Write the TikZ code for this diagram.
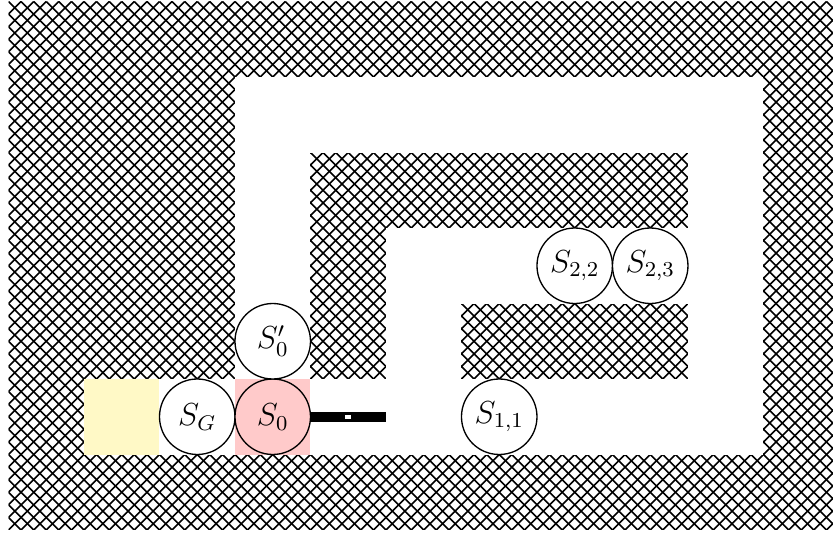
\documentclass[tikz,border=0pt]{standalone}
\definecolor{pinkcell}{RGB}{255,202,202}
\definecolor{yellowcell}{RGB}{255,249,198}
\begin{document}
\begin{tikzpicture}[x=1cm,y=-1cm,
  state/.style={circle,draw,line width=0.5pt,minimum size=1cm,inner sep=0pt,font=\large},
  hatchline/.style={line width=0.6pt,black}]
\useasboundingbox (-0.1126,-0.0199) rectangle (10.921,7.08);
\clip (-0.1126,-0.0199) rectangle (10.921,7.08);
% walls: cross-hatching over the whole grid
\begin{scope}
\clip (0,0) rectangle (11,7);
\foreach \k in {-43,...,67} {
  \draw[hatchline] ({\k/6},0) -- ({\k/6+7},7);
}
\foreach \k in {-1,...,109} {
  \draw[hatchline] ({\k/6},0) -- ({\k/6-7},7);
}
\end{scope}
% free cells
\fill[white] (3,1) rectangle (10,2);
\fill[white] (3,2) rectangle (4,5);
\fill[white] (9,2) rectangle (10,6);
\fill[white] (5,3) rectangle (9,4);
\fill[white] (5,4) rectangle (6,5);
\fill[white] (1,5) rectangle (9,6);
% coloured cells
\fill[yellowcell] (1,5) rectangle (2,6);
\fill[pinkcell] (3,5) rectangle (4,6);
% states
\node[state,fill=white] (sg) at (2.5,5.5) {$S_G$};
\node[state,fill=pinkcell] (s0) at (3.5,5.5) {$S_0$};
\node[state,fill=white] (s0p) at (3.5,4.5) {$S_0'$};
\node[state,fill=white] (s11) at (6.5,5.5) {$S_{1,1}$};
\node[state,fill=white] (s22) at (7.5,3.5) {$S_{2,2}$};
\node[state,fill=white] (s23) at (8.5,3.5) {$S_{2,3}$};
% bar
\fill[black] (4,5.433) rectangle (5,5.574);
\fill[white] (4.46,5.477) rectangle (4.532,5.53);
\end{tikzpicture}
\end{document}
